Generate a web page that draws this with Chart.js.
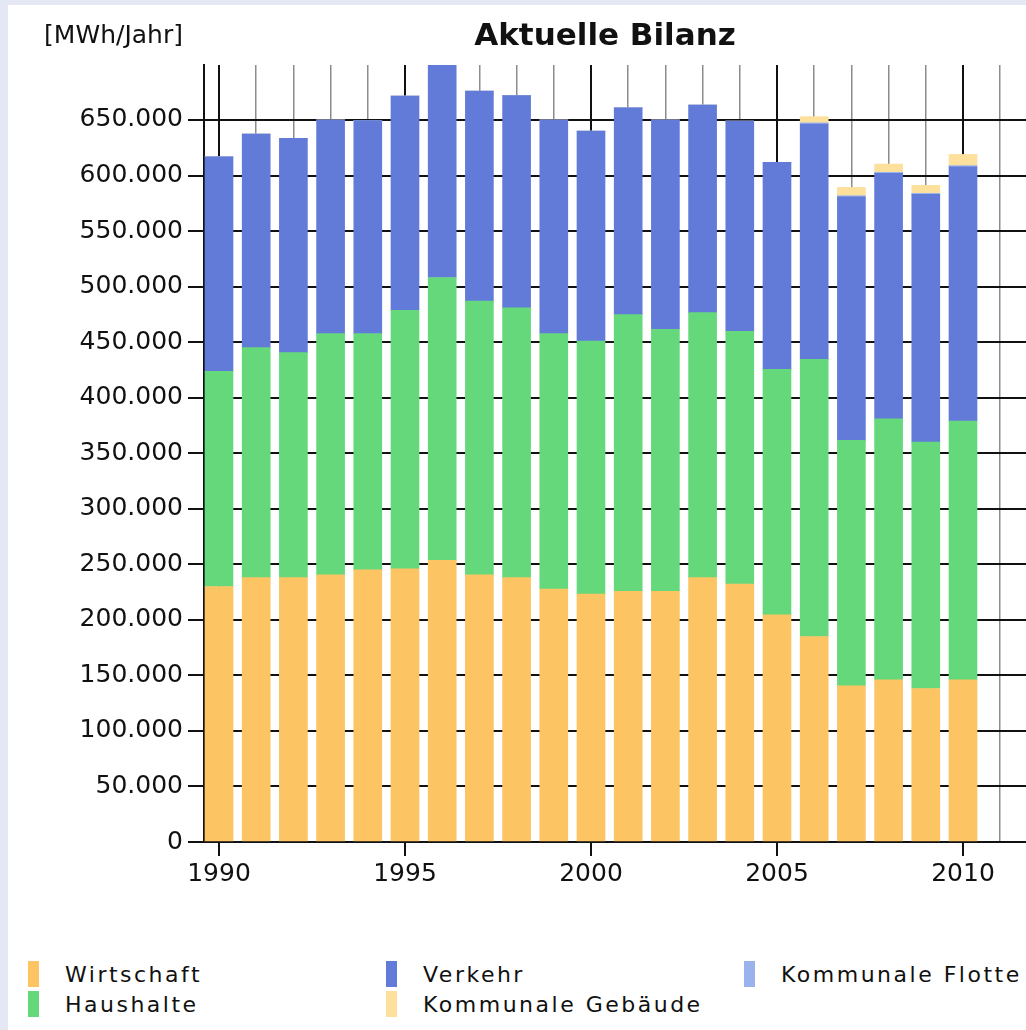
<!DOCTYPE html>
<html>
<head>
<meta charset="utf-8">
<script src="https://cdn.jsdelivr.net/npm/chart.js@4.4.1/dist/chart.umd.min.js"></script>
<style>
  body { margin: 0; background: #e4e7f4; overflow: hidden; }
  #panel { position: absolute; left: 8px; top: 5px; width: 1030px; height: 1040px; background: #fff; overflow: hidden; }
  #chart { position: absolute; left: 0; top: 0; }
  .legend { position: absolute; top: 954px; left: 0; font-family: 'DejaVu Sans', sans-serif; font-size: 22px; letter-spacing: 2.5px; color: #111; }
  .item { position: absolute; white-space: nowrap; height: 30px; line-height: 30px; }
  .item span.box { position: absolute; left: 0; top: 2px; width: 11px; height: 26px; }
  .item span.txt { position: absolute; left: 37px; top: 1px; }
</style>
</head>
<body>
<div id="panel">
  <canvas id="chart" width="1210" height="900"></canvas>
  <div class="legend" id="legend"></div>
</div>
<script>
// Daten
const years = [1990, 1991, 1992, 1993, 1994, 1995, 1996, 1997, 1998, 1999, 2000,
               2001, 2002, 2003, 2004, 2005, 2006, 2007, 2008, 2009, 2010];
const wirtschaft = [230000, 238000, 238000, 240500, 245000, 246000, 253500, 240500, 238000, 227800, 223300,
                    225700, 225700, 238000, 232300, 204400, 185000, 140600, 146000, 138200, 146000];
const haushalte = [193700, 207000, 202500, 217200, 212700, 232700, 254700, 246500, 243000, 229900, 227700,
                   249100, 235900, 238600, 227500, 221100, 249500, 220900, 235000, 221800, 233000];
const verkehr = [193200, 192400, 193000, 192300, 191700, 192900, 192500, 189000, 191000, 192300, 189000,
                 186200, 188400, 186900, 189200, 186300, 211900, 219300, 220900, 223000, 228900];
const kommFlotte = [0, 0, 0, 0, 0, 0, 0, 0, 0, 0, 0,
                    0, 0, 0, 0, 0, 1000, 1000, 1000, 1000, 1000];
const kommGebaeude = [0, 0, 0, 0, 0, 0, 0, 0, 0, 0, 0,
                      0, 0, 0, 0, 0, 5600, 7500, 7400, 7100, 10100];
const yTicks = [0, 50000, 100000, 150000, 200000, 250000, 300000, 350000, 400000, 450000, 500000, 550000, 600000, 650000];

const colors = {
    wirtschaft: '#fcc462',
    haushalte: '#66d87c',
    verkehr: '#627bd8',
    flotte: '#9ab3ec',
    gebaeude: '#fde09c'
};

function pts(arr) {
    return arr.map((v, i) => ({ x: years[i], y: v }));
}

function fmt(v) {
    return String(v).replace(/\B(?=(\d{3})+(?!\d))/g, '.');
}

Chart.defaults.font.family = "'DejaVu Sans', sans-serif";
Chart.defaults.color = '#111';

// Titel und Einheit
const textPlugin = {
    id: 'texts',
    afterDraw(chart) {
        const c = chart.ctx;
        c.save();
        c.fillStyle = '#111';
        c.textBaseline = 'alphabetic';
        c.font = "bold 31px 'DejaVu Sans'";
        c.textAlign = 'center';
        c.fillText('Aktuelle Bilanz', 597, 40);
        c.font = "25px 'DejaVu Sans'";
        c.textAlign = 'right';
        c.fillText('[MWh/Jahr]', 175, 38);
        c.restore();
    }
};

const datasets = [
    { label: 'Wirtschaft', data: pts(wirtschaft), backgroundColor: colors.wirtschaft },
    { label: 'Haushalte', data: pts(haushalte), backgroundColor: colors.haushalte },
    { label: 'Verkehr', data: pts(verkehr), backgroundColor: colors.verkehr },
    { label: 'Kommunale Flotte', data: pts(kommFlotte), backgroundColor: colors.flotte },
    { label: 'Kommunale Gebäude', data: pts(kommGebaeude), backgroundColor: colors.gebaeude }
];
datasets.forEach(d => { d.barThickness = 28; d.borderWidth = 0; });

new Chart(document.getElementById('chart'), {
    type: 'bar',
    data: { datasets: datasets },
    options: {
        responsive: false,
        animation: false,
        layout: { padding: { top: 60, left: 0, right: 0, bottom: 13 } },
        plugins: { legend: { display: false }, tooltip: { enabled: false } },
        scales: {
            x: {
                type: 'linear',
                stacked: true,
                offset: false,
                min: 1989.597,
                max: 2016.855,
                afterBuildTicks: (scale) => {
                    const t = [];
                    for (let y = years[0]; y <= 2016; y++) t.push({ value: y });
                    scale.ticks = t;
                },
                ticks: {
                    autoSkip: false,
                    maxRotation: 0,
                    padding: 3,
                    font: { size: 25 },
                    callback: (v) => (v % 5 === 0 ? String(v) : '')
                },
                grid: {
                    offset: false,
                    tickLength: 14,
                    color: (ctx) => (ctx.tick && ctx.tick.value % 5 === 0 ? '#111' : '#8c8c8c'),
                    lineWidth: (ctx) => (ctx.tick && ctx.tick.value % 5 === 0 ? 2 : 1.5),
                    tickColor: (ctx) => (ctx.tick && ctx.tick.value % 5 === 0 ? '#111' : 'rgba(0,0,0,0)'),
                    tickWidth: 2
                },
                border: { color: '#111', width: 2 }
            },
            y: {
                stacked: true,
                min: 0,
                max: 699500,
                afterFit: (scale) => { scale.width = 196; },
                afterBuildTicks: (scale) => { scale.ticks = yTicks.map(v => ({ value: v })); },
                ticks: {
                    padding: 5,
                    font: { size: 25 },
                    callback: (v) => fmt(v)
                },
                grid: { color: '#111', lineWidth: 2, tickLength: 16 },
                border: { color: '#111', width: 2 }
            }
        }
    },
    plugins: [textPlugin]
});

// Legende (spaltenweise wie im Original)
const legendItems = [
    { label: 'Wirtschaft', color: colors.wirtschaft, x: 20, y: 0 },
    { label: 'Haushalte', color: colors.haushalte, x: 20, y: 30 },
    { label: 'Verkehr', color: colors.verkehr, x: 378, y: 0 },
    { label: 'Kommunale Gebäude', color: colors.gebaeude, x: 378, y: 30 },
    { label: 'Kommunale Flotte', color: colors.flotte, x: 736, y: 0 }
];
const legend = document.getElementById('legend');
legendItems.forEach(it => {
    const d = document.createElement('div');
    d.className = 'item';
    d.style.left = it.x + 'px';
    d.style.top = it.y + 'px';
    d.innerHTML = '<span class="box" style="background:' + it.color + '"></span><span class="txt">' + it.label + '</span>';
    legend.appendChild(d);
});
</script>
</body>
</html>
